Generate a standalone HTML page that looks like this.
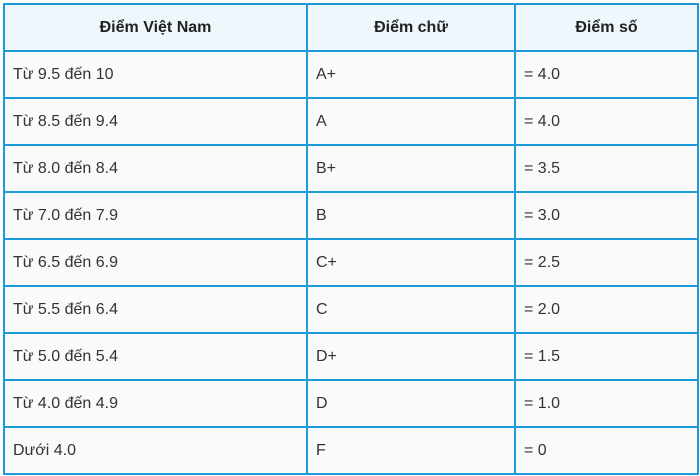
<!DOCTYPE html>
<html><head><meta charset="utf-8"><style>
body{margin:0;width:700px;height:476px;background:#fff;font-family:"Liberation Sans",Arial,sans-serif;}
table{position:absolute;left:3px;top:3px;border-collapse:collapse;width:696px;}
td,th{border:2px solid #1b9bd7;height:45px;padding:0 0 0 8px;font-size:16px;color:#333;background:#fafafa;text-align:left;}
th{background:#eef7fc;text-align:center;font-weight:bold;color:#222;padding:0;}
</style></head><body>
<table>
<colgroup><col style="width:303px"><col style="width:208px"><col></colgroup>
<tr><th>Điểm Việt Nam</th><th>Điểm chữ</th><th>Điểm số</th></tr>
<tr><td>Từ 9.5 đến 10</td><td>A+</td><td>= 4.0</td></tr>
<tr><td>Từ 8.5 đến 9.4</td><td>A</td><td>= 4.0</td></tr>
<tr><td>Từ 8.0 đến 8.4</td><td>B+</td><td>= 3.5</td></tr>
<tr><td>Từ 7.0 đến 7.9</td><td>B</td><td>= 3.0</td></tr>
<tr><td>Từ 6.5 đến 6.9</td><td>C+</td><td>= 2.5</td></tr>
<tr><td>Từ 5.5 đến 6.4</td><td>C</td><td>= 2.0</td></tr>
<tr><td>Từ 5.0 đến 5.4</td><td>D+</td><td>= 1.5</td></tr>
<tr><td>Từ 4.0 đến 4.9</td><td>D</td><td>= 1.0</td></tr>
<tr><td>Dưới 4.0</td><td>F</td><td>= 0</td></tr>
</table>
</body></html>
